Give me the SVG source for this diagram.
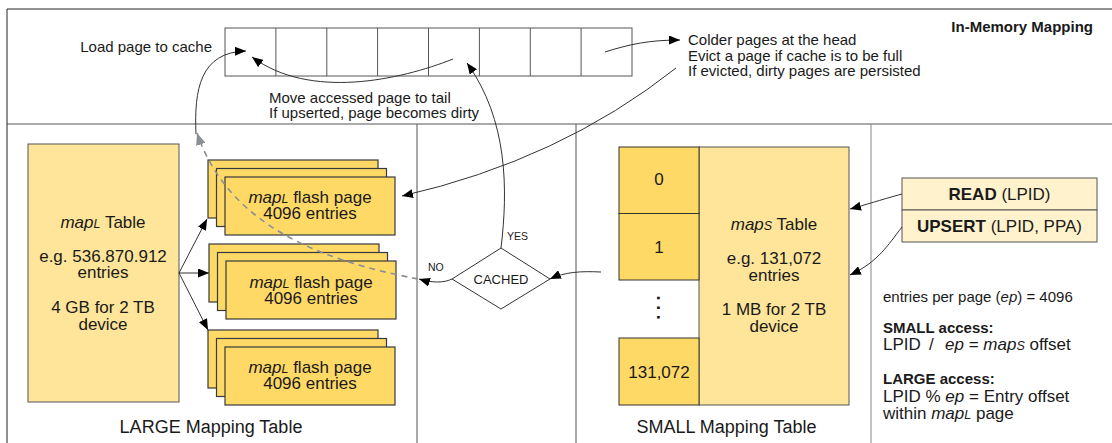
<svg xmlns="http://www.w3.org/2000/svg" width="1112" height="443" viewBox="0 0 1112 443">
  <style>
    text { font-family: "Liberation Sans", Arial, sans-serif; fill: #1a1a1a; }
    .t15 { font-size: 15px; }
    .t17 { font-size: 17px; }
    .t18 { font-size: 18px; }
    .mid { text-anchor: middle; }
    .b { font-weight: bold; }
    .i { font-style: italic; }
    .frame { stroke: #222; stroke-width: 1; fill: none; }
    .div { stroke: #555; stroke-width: 1; fill: none; }
    .div2 { stroke: #888; stroke-width: 1; fill: none; }
    .cache { fill: #fff; stroke: #555; stroke-width: 1; }
    .light { fill: #ffe599; stroke: #555; stroke-width: 1; }
    .dark { fill: #ffd966; stroke: #333; stroke-width: 1; }
    .page { fill: #ffd966; stroke: #36393d; stroke-width: 1.2; }
    .cmd { fill: #fff2cc; stroke: #555; stroke-width: 1; }
    .link { fill: none; stroke: #333; stroke-width: 1; marker-end: url(#arr); }
    .dash { fill: none; stroke: #8a8f96; stroke-width: 1.6; stroke-dasharray: 6 5; marker-end: url(#arrg); }
  </style>
  <defs>
    <marker id="arr" viewBox="0 0 11 9" refX="11" refY="4.5" markerWidth="11" markerHeight="9" markerUnits="userSpaceOnUse" orient="auto">
      <path d="M0,0 L11,4.5 L0,9 z" fill="#000"/>
    </marker>
    <marker id="arrg" viewBox="0 0 11 9" refX="11" refY="4.5" markerWidth="12" markerHeight="10" markerUnits="userSpaceOnUse" orient="auto">
      <path d="M0,0 L11,4.5 L0,9 z" fill="#8a8f96"/>
    </marker>
  </defs>

  <rect width="1112" height="443" fill="#fff"/>

  <!-- panel frame and section dividers -->
  <g id="frame">
    <path class="frame" d="M7,443 V9 H1112"/>
    <path class="div" d="M7,124 H1112"/>
    <path class="div" d="M417,124 V443 M576,124 V443"/>
    <path class="div2" d="M871,124 V443"/>
  </g>

  <!-- in-memory LRU cache row -->
  <g id="cache">
    <rect class="cache" x="225" y="28" width="407" height="48"/>
    <path class="cache" d="M275.9,28 V76 M326.8,28 V76 M377.6,28 V76 M428.5,28 V76 M479.4,28 V76 M530.3,28 V76 M581.1,28 V76"/>
    <text class="t15" x="212" y="52" text-anchor="end">Load page to cache</text>
    <text class="t15" x="269" y="102.5">Move accessed page to tail</text>
    <text class="t15" x="269" y="117.5">If upserted, page becomes dirty</text>
    <text class="t15" x="688" y="45">Colder pages at the head</text>
    <text class="t15" x="688" y="60.5">Evict a page if cache is to be full</text>
    <text class="t15" x="688" y="76">If evicted, dirty pages are persisted</text>
    <text class="t15 b" x="1093" y="32" text-anchor="end">In-Memory Mapping</text>
  </g>

  <!-- LARGE mapping table -->
  <g id="map-large">
    <rect class="light" x="28" y="144" width="151" height="258"/>
    <text class="t17 mid" x="103" y="228"><tspan class="i">map</tspan><tspan class="i" font-size="12.5">L</tspan> Table</text>
    <text class="t17 mid" x="103" y="262">e.g. 536.870.912</text>
    <text class="t17 mid" x="103" y="278">entries</text>
    <text class="t17 mid" x="103" y="313">4 GB for 2 TB</text>
    <text class="t17 mid" x="103" y="330">device</text>
  </g>

  <g id="flash-pages-1">
    <rect class="page" x="208" y="160" width="170" height="58"/>
    <rect class="page" x="216.5" y="168.5" width="170" height="58"/>
    <rect class="page" x="225" y="177" width="170" height="58"/>
    <text class="t17 mid" x="310" y="203"><tspan class="i">map</tspan><tspan class="i" font-size="12.5">L</tspan> flash page</text>
    <text class="t17 mid" x="310" y="219">4096 entries</text>
  </g>
  <g id="flash-pages-2">
    <rect class="page" x="209" y="244" width="170" height="58"/>
    <rect class="page" x="217.5" y="252.5" width="170" height="58"/>
    <rect class="page" x="226" y="261" width="170" height="58"/>
    <text class="t17 mid" x="311" y="288"><tspan class="i">map</tspan><tspan class="i" font-size="12.5">L</tspan> flash page</text>
    <text class="t17 mid" x="311" y="304">4096 entries</text>
  </g>
  <g id="flash-pages-3">
    <rect class="page" x="208" y="330" width="170" height="58"/>
    <rect class="page" x="216.5" y="338.5" width="170" height="58"/>
    <rect class="page" x="225" y="347" width="170" height="58"/>
    <text class="t17 mid" x="310" y="373"><tspan class="i">map</tspan><tspan class="i" font-size="12.5">L</tspan> flash page</text>
    <text class="t17 mid" x="310" y="389">4096 entries</text>
  </g>

  <g id="label-large">
    <text class="t18 mid" x="211" y="433">LARGE Mapping Table</text>
  </g>

  <!-- cache lookup decision -->
  <g id="cached">
    <path d="M501,248 L550,279 L501,309 L452,279 z" fill="#fff" stroke="#333" stroke-width="1"/>
    <text class="mid" x="501" y="283.5" font-size="13">CACHED</text>
  </g>

  <!-- SMALL mapping table -->
  <g id="map-small">
    <rect class="light" x="699" y="147" width="150" height="258"/>
    <rect class="dark" x="619" y="147" width="80" height="66.5"/>
    <rect class="dark" x="619" y="213.5" width="80" height="66.5"/>
    <rect class="dark" x="619" y="338" width="80" height="67"/>
    <text class="t17 mid" x="659" y="185">0</text>
    <text class="t17 mid" x="659" y="253">1</text>
    <text class="mid b" x="657" y="308" font-size="18" letter-spacing="4.6" transform="rotate(90 657 308)" dx="2">...</text>
    <text class="t17 mid" x="659" y="378">131,072</text>
    <text class="t17 mid" x="774" y="230"><tspan class="i">map</tspan><tspan class="i" font-size="12.5">S</tspan> Table</text>
    <text class="t17 mid" x="774" y="264">e.g. 131,072</text>
    <text class="t17 mid" x="774" y="281">entries</text>
    <text class="t17 mid" x="774" y="315">1 MB for 2 TB</text>
    <text class="t17 mid" x="774" y="332">device</text>
  </g>

  <g id="label-small">
    <text class="t18 mid" x="726.5" y="433">SMALL Mapping Table</text>
  </g>

  <!-- operations -->
  <g id="operations">
    <rect class="cmd" x="902" y="178" width="195" height="32"/>
    <rect class="cmd" x="902" y="210" width="195" height="32"/>
    <text class="t17 mid" x="999.5" y="200"><tspan class="b">READ</tspan> (LPID)</text>
    <text class="t17 mid" x="999.5" y="232"><tspan class="b">UPSERT</tspan> (LPID, PPA)</text>
  </g>

  <!-- notes -->
  <g id="notes">
    <text class="t15" x="883" y="302">entries per page (<tspan class="i">ep</tspan>) = 4096</text>
    <text class="t15 b" x="883" y="333">SMALL access:</text>
    <text class="t17" x="883" y="350">LPID <tspan x="929">/</tspan><tspan x="945" class="i">ep</tspan> = <tspan class="i">map</tspan><tspan class="i" font-size="12.5">S</tspan> offset</text>
    <text class="t15 b" x="883" y="384">LARGE access:</text>
    <text class="t17" x="883" y="402">LPID % <tspan class="i">ep</tspan> = Entry offset</text>
    <text class="t17" x="883" y="419">within <tspan class="i">map</tspan><tspan class="i" font-size="12.5">L</tspan> page</text>
  </g>

  <!-- connectors -->
  <g id="connectors">
    <path class="link" d="M196,134 C194,90 200,52 246,51"/>
    <path class="link" d="M453,59 C400,80 310,100 252,57"/>
    <path class="link" d="M501,248 C508,190 508,120 467,63"/>
    <path class="link" d="M605,52 C630,44 650,40 680,40"/>
    <path class="link" d="M676,68 Q560,160 402,196"/>
    <path class="link" d="M601,272 C580,271 565,272 550,279"/>
    <path class="link" d="M452,279 C444,283 432,283 419,279"/>
    <path class="dash" d="M418,279 C330,262 230,230 197,133"/>
    <path class="link" d="M179,273 L207,219"/>
    <path class="link" d="M179,273 L209,273"/>
    <path class="link" d="M179,273 L208,330"/>
    <path class="link" d="M902,194 C880,200 865,205 850,209"/>
    <path class="link" d="M902,227 C888,245 878,262 850,275"/>
    <text x="507" y="240" font-size="10.5">YES</text>
    <text x="428" y="271" font-size="10.5">NO</text>
  </g>
</svg>
